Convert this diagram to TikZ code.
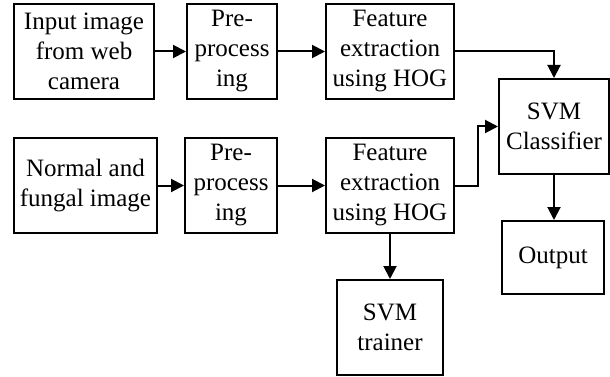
\documentclass[tikz,border=0pt]{standalone}
\usepackage{fontspec}
\setmainfont{Liberation Serif}
\usetikzlibrary{arrows.meta}
\begin{document}
\begin{tikzpicture}[x=1pt, y=-1pt, >={Triangle[length=13pt, width=13pt]},
  blockbox/.style={draw, line width=2pt, align=center, inner sep=0pt,
    font=\fontsize{25}{30}\selectfont}]
\useasboundingbox (0,0) rectangle (610,377);
\node[blockbox, minimum width=140pt, minimum height=95pt] (input) at (84,51.5) {Input image\\from web\\camera};
\node[blockbox, minimum width=90pt, minimum height=95pt] (pre1) at (232,51.5) {Pre-\\process\\ing};
\node[blockbox, minimum width=128pt, minimum height=95pt] (feat1) at (390,51.5) {Feature\\extraction\\using HOG};
\node[blockbox, minimum width=143pt, minimum height=95pt] (normal) at (85.5,185.5) {Normal and\\fungal image};
\node[blockbox, minimum width=92pt, minimum height=95pt] (pre2) at (231,185.5) {Pre-\\process\\ing};
\node[blockbox, minimum width=128pt, minimum height=95pt] (feat2) at (390,185.5) {Feature\\extraction\\using HOG};
\node[blockbox, minimum width=110pt, minimum height=95pt] (svm) at (554,126.5) {SVM\\Classifier};
\node[blockbox, minimum width=102pt, minimum height=73pt] (out) at (553,257.5) {Output};
\node[blockbox, minimum width=106pt, minimum height=95pt] (trainer) at (390,327.5) {SVM\\trainer};
\draw[->, line width=2pt] (input) -- (pre1);
\draw[->, line width=2pt] (pre1) -- (feat1);
\draw[->, line width=2pt] (feat1.east) -| (svm.north);
\draw[->, line width=2pt] (normal.east |- pre2) -- (pre2);
\draw[->, line width=2pt] (pre2) -- (feat2);
\draw[->, line width=2pt] (feat2.east) -- ++(23,0) |- (svm.west);
\draw[->, line width=2pt] (svm.south) -- (svm.south |- out.north);
\draw[->, line width=2pt] (feat2.south) -- (trainer.north);
\end{tikzpicture}
\end{document}
